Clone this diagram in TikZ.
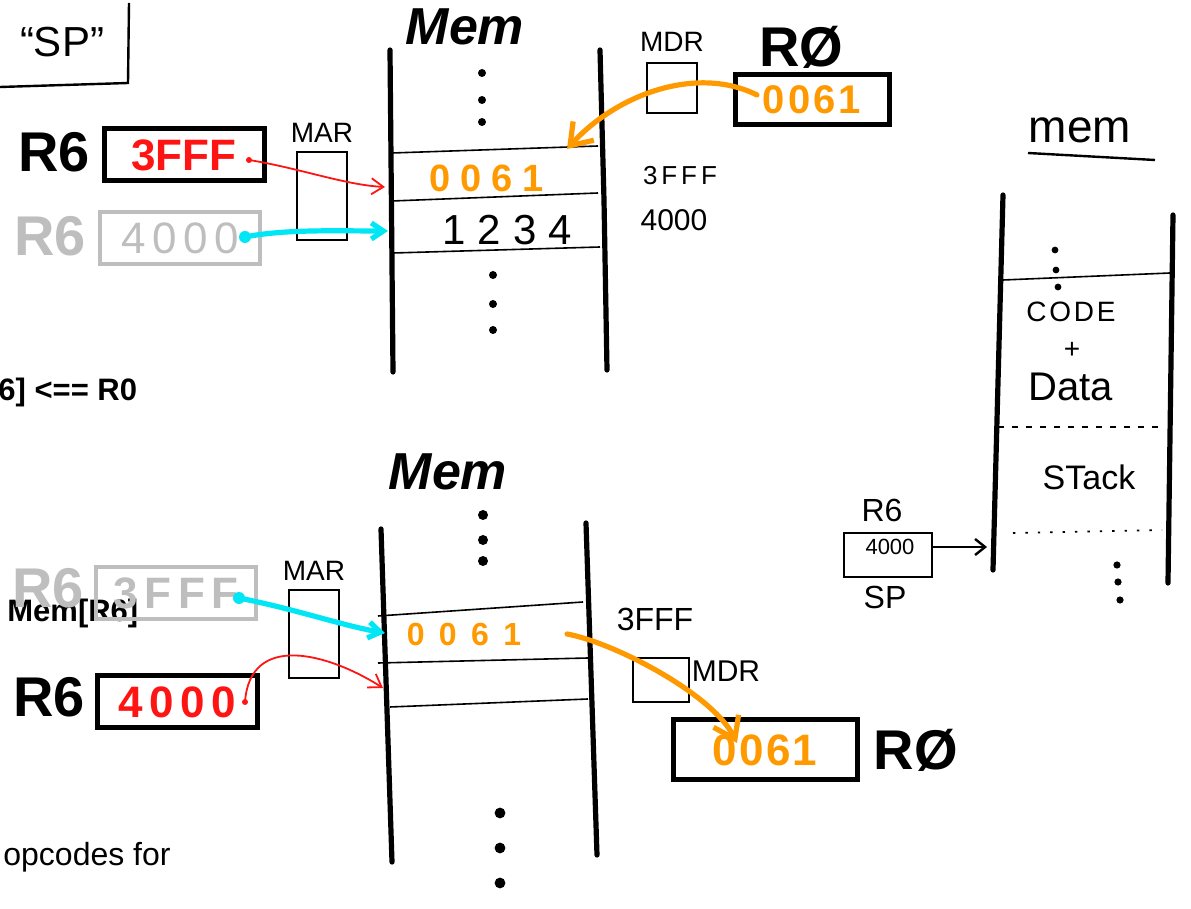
\documentclass[tikz,border=0pt]{standalone}
\usepackage{fontspec}
\setmainfont{Liberation Sans}
\usetikzlibrary{positioning,arrows.meta}
\definecolor{valred}{HTML}{FF1414}
\definecolor{valorange}{HTML}{FF9900}
\definecolor{valcyan}{HTML}{00E6F5}
\definecolor{ghost}{HTML}{BEBEBE}
\newcommand{\fsz}[1]{\fontsize{#1}{#1}\selectfont}
\newcommand{\spread}[1]{\addfontfeature{LetterSpace=#1}}

\begin{document}
\begin{tikzpicture}[x=0.5pt, y=-0.5pt,
    regbox/.style={draw, line width=2.5pt, minimum width=80pt, minimum height=26pt, inner sep=0pt},
    oldbox/.style={regbox, draw=ghost, line width=2.2pt, text=ghost},
    busbox/.style={draw, line width=1.1pt, inner sep=0pt},
    regname/.style={font=\bfseries\fsz{28}, inner sep=0pt},
    oldname/.style={regname, text=ghost},
    hand/.style={font=\fsz{14}, inner sep=0pt},
    memname/.style={font=\bfseries\itshape\fsz{26}, inner sep=0pt},
    note/.style={font=\bfseries\fsz{15.5}, anchor=west, inner sep=0pt},
    wall/.style={line width=2.6pt, line cap=round},
    cellline/.style={line width=0.8pt},
    redptr/.style={valred, line width=0.9pt, -{Straight Barb[length=6pt,width=8pt]}},
    cyanptr/.style={valcyan, line width=2.6pt, line cap=round, -{Straight Barb[length=6pt,width=8pt]}},
    orangeptr/.style={valorange, line width=2.6pt, line cap=round, -{Straight Barb[length=10pt,width=14pt]}}
]
\useasboundingbox (0,0) rectangle (1191,909);

% corner of the "SP" box
\node[font=\fsz{21}] (sptitle) at (62,42) {“SP”};
\draw[line width=1.2pt] (0,87) -- (128,83) -- (129,3);

% ---- top: store R0 into Mem[R6]
\node[memname] (memA) at (465,27) {Mem};
\draw[wall] (390,50) -- (393,372);
\draw[wall] (600,50) -- (604,200) -- (607,370);
\draw[cellline] (392,153) -- (598,146);
\draw[cellline] (392,201) -- (598,193);
\draw[cellline] (393,253) -- (600,247);
\foreach \y in {73,100,122} \fill (482,\y) circle (2pt);
\foreach \y in {275,304,330} \fill (493,\y) circle (2pt);

\node[font=\bfseries\fsz{19}\spread{26}, text=valorange] (cellA) at (487,178) {0061};
\node[font=\fsz{21}\spread{29}] (cellB) at (507,230) {1234};
\coordinate (cellA-in) at (385,187);
\coordinate (cellB-in) at (388,231);
\coordinate (cellA-top) at (567,149);
\node[hand, font=\fsz{13}\spread{15}] (addrA) at (680,176) {3FFF};
\node[hand, font=\fsz{15}] (addrB) at (674,220) {4000};

\node[regname] (r6a-name) at (54,152) {R6};
\node[regbox, font=\bfseries\fsz{22}, text=valred] (r6a) at (184,155) {3FFF};
\node[oldname] (r6b-name) at (50,236) {R6};
\node[oldbox, font=\fsz{22}\spread{15}] (r6b) at (180,238) {4000};
\node[busbox, minimum width=25pt, minimum height=44pt] (mar-a) at (322,196) {};
\node[hand, above=4pt of mar-a] (mar-a-name) {MAR};

\node[busbox, minimum width=25pt, minimum height=25pt] (mdr-a) at (672,88) {};
\node[hand, above=5pt of mdr-a] (mdr-a-name) {MDR};
\node[regbox, minimum width=77pt, minimum height=25pt, font=\bfseries\fsz{20}\spread{8}, text=valorange] (r0a) at (812,100) {0061};
\node[regname] (r0a-name) at (801,47) {RØ};

\coordinate (r6a-out) at (249,160);
\coordinate (r6b-out) at (245,237);
\coordinate (r0a-out) at (757,95);
\fill[valred] (r6a-out) circle (1.5pt);
\draw[redptr] (r6a-out) .. controls +(50,8) and +(-40,-2) .. (cellA-in);
\fill[valcyan] (r6b-out) circle (3pt);
\draw[cyanptr] (r6b-out) .. controls +(40,-8) and +(-50,0) .. (cellB-in);
\draw[orangeptr] (r0a-out) .. controls +(-60,-30) and +(50,-55) .. (cellA-top);

\node[note] (storenote) at (-2,392) {6] <== R0};

% ---- bottom: load R0 from Mem[R6]
\node[memname] (memB) at (448,472) {Mem};
\foreach \y in {515,540,561} \fill (483,\y) circle (2.5pt);
\foreach \y in {813,848,883} \fill (500,\y) circle (2.7pt);
\draw[wall] (381,529) -- (392,862);
\draw[wall] (586,523) -- (597,855);
\draw[cellline] (378,616) -- (583,602);
\draw[cellline] (378,663) -- (588,658);
\draw[cellline] (390,707) -- (588,699);
\node[font=\bfseries\fsz{16}\spread{45}, text=valorange] (cellC) at (464,634) {0061};
\coordinate (cellC-in) at (385,633);
\coordinate (cellD-in) at (383,688);
\coordinate (cellC-out) at (567,634);
\node[hand, font=\fsz{16}] (addrC) at (655,619) {3FFF};

\node[busbox, minimum width=28pt, minimum height=22pt] (mdr-b) at (661,680) {};
\node[hand, font=\fsz{15}] (mdr-b-name) at (726,671) {MDR};
\node[regbox, minimum width=92pt, minimum height=30pt, font=\bfseries\fsz{22}\spread{5}, text=valorange] (r0b) at (765,750) {0061};
\node[regname, right=7pt of r0b] (r0b-name) {RØ};
\coordinate (r0b-in) at (737,743);
\draw[orangeptr] (cellC-out) .. controls +(45,8) and +(-25,-50) .. (r0b-in);

\node[note] (loadnote) at (7,613) {Mem[R6]};
\node[oldname] (r6c-name) at (48,588) {R6};
\node[oldbox, font=\bfseries\fsz{22}\spread{15}] (r6c) at (176,593) {3FFF};
\node[regname] (r6d-name) at (49,697) {R6};
\node[regbox, font=\bfseries\fsz{22}\spread{15}, text=valred] (r6d) at (177,702) {4000};
\node[busbox, minimum width=25pt, minimum height=44pt] (mar-b) at (314,634) {};
\node[hand, above=4pt of mar-b] (mar-b-name) {MAR};

\coordinate (r6c-out) at (239,598);
\coordinate (r6d-out) at (245,702);
\fill[valcyan] (r6c-out) circle (3pt);
\draw[cyanptr] (r6c-out) .. controls +(60,12) and +(-45,-8) .. (cellC-in);
\fill[valred] (r6d-out) circle (1.5pt);
\draw[redptr] (r6d-out) .. controls +(5,-70) and +(-55,-35) .. (cellD-in);

\node[font=\fsz{16}, anchor=west, inner sep=0pt] (opnote) at (3,857) {opcodes for};

% ---- right: memory map
\node[font=\fsz{23}, inner sep=0pt] (memC) at (1080,130) {mem};
\draw[line width=1.2pt] (1028,153) -- (1155,160);
\draw[wall] (1003,195) -- (993,570);
\draw[wall] (1173,215) -- (1168,583);
\draw[cellline] (1003,280) -- (1170,273);
\foreach \y/\x in {250/1055,270/1056,287/1058} \fill (\x,\y) circle (1.7pt);
\node[hand, font=\fsz{14}\spread{10}] (codeA) at (1071,312) {CODE};
\node[hand, font=\fsz{14}] (plusA) at (1072,350) {+};
\node[hand, font=\fsz{20}] (dataA) at (1071,387) {Data};
\draw[cellline, dash pattern=on 3pt off 4pt] (998,427) -- (1165,427);
\node[hand, font=\fsz{17}] (stackA) at (1089,477) {STack};
\draw[cellline, dash pattern=on 1.2pt off 5pt] (1013,533) -- (1162,530);
\foreach \y/\x in {565/1117,582/1118,600/1120} \fill (\x,\y) circle (1.8pt);

\node[hand, font=\fsz{16}] (sp-name) at (882,510) {R6};
\node[draw, line width=1.1pt, minimum width=44pt, minimum height=22pt] (spreg) at (888,555) {};
\node[hand, font=\fsz{11}] (spval) at (890,547) {4000};
\node[hand, font=\fsz{16}] (sp-label) at (885,597) {SP};
\coordinate (stack-wall) at (987,547);
\draw[line width=1.2pt, -{Straight Barb[length=5pt,width=8pt]}] (spreg.east |- stack-wall) -- (stack-wall);

\end{tikzpicture}
\end{document}
